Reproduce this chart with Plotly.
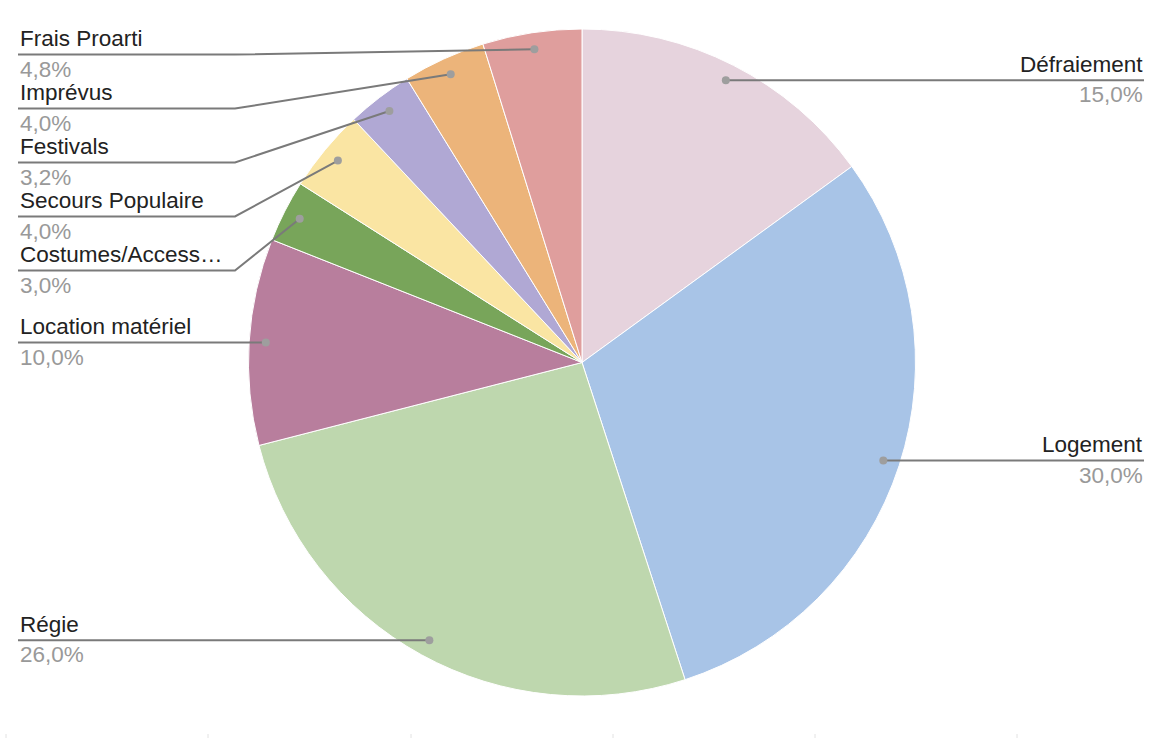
import math
import plotly.graph_objects as go

# ---- data ----
labels = ["Défraiement", "Logement", "Régie", "Location matériel",
          "Costumes/Access…", "Secours Populaire", "Festivals", "Imprévus", "Frais Proarti"]
values = [15.0, 30.0, 26.0, 10.0, 3.0, 4.0, 3.2, 4.0, 4.8]
pct_text = ["15,0%", "30,0%", "26,0%", "10,0%", "3,0%", "4,0%", "3,2%", "4,0%", "4,8%"]
colors = ["#E6D3DD", "#A8C4E7", "#BED7AE", "#B87E9D", "#78A55A",
          "#FAE5A3", "#B0A8D4", "#ECB47A", "#DF9E9D"]

# ---- layout constants (pixels) ----
W, H = 1176, 738
CX, CY, R = 582.0, 362.5, 333.5
DOT_R = 0.95 * R
FS = 22.5
LEFT_X = 18
BEND_X = 235
RIGHT_X = 1144
ROW = 54
TOP_MIN = 54.5
LINE_COLOR = "#7a7a7a"
DOT_COLOR = "#9e9e9e"
NAME_COLOR = "#222222"
PCT_COLOR = "#999999"


def px(x):
    return x / W


def py(y):
    return 1 - y / H


fig = go.Figure()
fig.add_trace(go.Pie(
    labels=labels, values=values, sort=False, direction="clockwise", rotation=0,
    marker=dict(colors=colors, line=dict(color="white", width=1)),
    textinfo="none", hoverinfo="label+percent", showlegend=False,
    domain=dict(x=[(CX - R) / W, (CX + R) / W], y=[(H - CY - R) / H, (H - CY + R) / H]),
))

total = sum(values)
cum = 0.0
dots = []
for v in values:
    mid = (cum + v / 2) / total * 2 * math.pi
    cum += v
    dots.append((CX + DOT_R * math.sin(mid), CY - DOT_R * math.cos(mid)))

shapes = []
annotations = []


def add_label(i, ly, side):
    dx, dy = dots[i]
    if side == "left":
        if abs(ly - dy) < 0.5:
            shapes.append(dict(type="line", x0=px(LEFT_X), y0=py(ly), x1=px(dx), y1=py(dy)))
        else:
            shapes.append(dict(type="path",
                               path=f"M {px(LEFT_X)},{py(ly)} L {px(BEND_X)},{py(ly)} L {px(dx)},{py(dy)}"))
        tx, anchor = LEFT_X + 1, "left"
    else:
        shapes.append(dict(type="line", x0=px(dx), y0=py(dy), x1=px(RIGHT_X), y1=py(ly)))
        tx, anchor = RIGHT_X, "right"
    shapes.append(dict(type="circle", x0=px(dx - 4), x1=px(dx + 4), y0=py(dy - 4), y1=py(dy + 4),
                       fillcolor=DOT_COLOR, line=dict(width=0)))
    annotations.append(dict(x=px(tx), y=py(ly - 2.2), xanchor=anchor, yanchor="bottom",
                            text=labels[i], showarrow=False, borderpad=0,
                            font=dict(size=FS, color=NAME_COLOR)))
    annotations.append(dict(x=px(tx), y=py(ly + 1.2), xanchor=anchor, yanchor="top",
                            text=pct_text[i], showarrow=False, borderpad=0,
                            font=dict(size=FS, color=PCT_COLOR)))


# right side: slices whose mid-angle is in the right half
left_idx = []
for i, (dx, dy) in enumerate(dots):
    if dx >= CX:
        add_label(i, dy, "right")
    else:
        left_idx.append(i)

# left side: stack from top
left_idx.sort(key=lambda i: dots[i][1])
prev = None
for i in left_idx:
    want = dots[i][1]
    ly = max(want, TOP_MIN) if prev is None else max(want, prev + ROW)
    add_label(i, ly, "left")
    prev = ly

for s in shapes:
    s.update(xref="paper", yref="paper", layer="above")
    if s["type"] != "circle":
        s["line"] = dict(color=LINE_COLOR, width=2)

# faint sheet gridline ticks at the bottom
for gx in [6, 208, 411, 613, 815, 1017]:
    shapes.append(dict(type="line", xref="paper", yref="paper", x0=px(gx), x1=px(gx),
                       y0=py(734), y1=py(738), line=dict(color="#e2e2e2", width=1)))

fig.update_layout(
    width=W, height=H, margin=dict(l=0, r=0, t=0, b=0),
    paper_bgcolor="white", plot_bgcolor="white",
    font=dict(family="Liberation Sans, Arial, sans-serif"),
    shapes=shapes, annotations=annotations,
)

fig.write_html("out.html", config={"displayModeBar": False},
               post_script="document.body.style.margin='0';document.body.style.overflow='hidden';")
